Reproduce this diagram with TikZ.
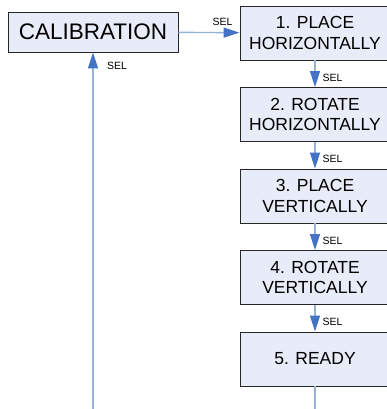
\documentclass[tikz,border=0pt]{standalone}
\usepackage{fontspec}
\setmainfont{Liberation Sans}
\usetikzlibrary{arrows.meta,positioning}
\definecolor{boxfill}{RGB}{232,236,248}
\definecolor{edgeline}{RGB}{149,179,215}
\definecolor{edgetip}{RGB}{68,114,196}
\tikzset{
  menu/.style={rectangle, draw=black!85, line width=0.9pt, fill=boxfill,
               inner sep=0pt, minimum width=150pt, minimum height=54pt,
               align=center, font=\fontsize{17.5}{20.5}\selectfont},
  top/.style={menu, minimum width=170pt, minimum height=40pt,
              font=\fontsize{22.5}{26}\selectfont},
  ed/.style={-{Triangle[length=16pt,width=10pt,color=edgetip]}, line width=1.4pt, draw=edgeline},
  edn/.style={line width=1.4pt, draw=edgeline},
  sel/.style={font=\fontsize{10.5}{12}\selectfont, inner sep=0pt}
}
\begin{document}
\begin{tikzpicture}[x=1pt,y=-1pt]
\useasboundingbox (0,0) rectangle (387,409);
\node[top]  (cal) at (93,32)    {CALIBRATION};
\node[menu] (s1)  at (315,33)   {1. PLACE\\HORIZONTALLY};
\node[menu] (s2)  at (315,114.5){2. ROTATE\\HORIZONTALLY};
\node[menu] (s3)  at (315,196)  {3. PLACE\\VERTICALLY};
\node[menu] (s4)  at (315,277.5){4. ROTATE\\VERTICALLY};
\node[menu] (s5)  at (315,359)  {5. READY};
\coordinate (in)  at (93,409);
\coordinate (out) at (315,409);
\draw[ed] (cal) -- node[sel, pos=0.72, above=6pt] {SEL} (s1);
\draw[ed] (s1) -- node[sel, pos=0.65, right=7pt] {SEL} (s2);
\draw[ed] (s2) -- node[sel, pos=0.65, right=7pt] {SEL} (s3);
\draw[ed] (s3) -- node[sel, pos=0.65, right=7pt] {SEL} (s4);
\draw[ed] (s4) -- node[sel, pos=0.65, right=7pt] {SEL} (s5);
\draw[edn] (s5) -- (out);
\draw[ed] (in) -- (cal);
\node[sel, anchor=west] (sellbl) at (107,66) {SEL};
\end{tikzpicture}
\end{document}
